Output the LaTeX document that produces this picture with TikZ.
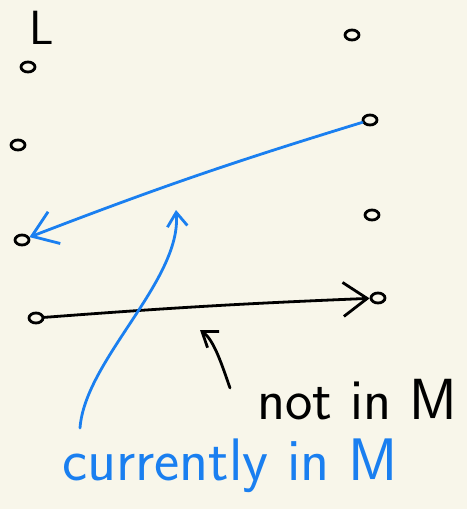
\documentclass[tikz,border=0pt]{standalone}
\usepackage{tikz}
\usetikzlibrary{arrows.meta}
\definecolor{papier}{HTML}{F8F6EA}
\definecolor{stylo}{HTML}{1A7FF0}
\tikzset{
    sommet/.style={draw, line width=2.8pt, ellipse, inner sep=0pt, minimum width=14pt, minimum height=10pt},
    trait/.style={line width=2.8pt, line cap=round},
    fleche/.style={trait, -{Straight Barb[length=24pt, width=34pt, line width=2.8pt]}},
    petitefleche/.style={trait, -{Straight Barb[length=14pt, width=20pt, line width=2.8pt]}},
    main/.style={font=\sffamily\fontsize{58}{58}\selectfont, inner sep=0pt}
}
\usetikzlibrary{shapes.geometric}
\begin{document}
\begin{tikzpicture}[x=1pt, y=-1pt]
        % Fond
        \fill[papier] (0,0) rectangle (467,509);
        \useasboundingbox (0,0) rectangle (467,509);

        % Ensemble L
        \node[main, font=\sffamily\fontsize{48}{48}\selectfont] (L) at (42,28) {L};

        % Sommets de gauche
        \node[sommet] (g1) at (28,67) {};
        \node[sommet] (g2) at (18,145) {};
        \node[sommet] (g3) at (22,240) {};
        \node[sommet] (g4) at (36,318) {};

        % Sommets de droite
        \node[sommet] (d1) at (352,35) {};
        \node[sommet] (d2) at (370,120) {};
        \node[sommet] (d3) at (372,215) {};
        \node[sommet] (d4) at (378,298) {};

        % Arete de M (bleue)
        \draw[fleche, stylo] (d2) to[bend right=2] (g3);

        % Arete hors de M
        \draw[fleche] (g4) to[bend left=1] (d4);

        % Legendes
        \node[main] (hors) at (357,400) {not in M};
        \node[main, stylo, font=\sffamily\fontsize{60}{60}\selectfont] (dans) at (230,466) {currently in M};

        % Renvois
        \coordinate (cible1) at (176,210);
        \coordinate (depart1) at (80,428);
        \draw[petitefleche, stylo] (depart1) .. controls (85,360) and (182,280) .. (cible1);
        \coordinate (cible2) at (200,330);
        \coordinate (depart2) at (230,388);
        \draw[petitefleche] (depart2) .. controls (222,365) and (214,340) .. (cible2);
    \end{tikzpicture}
\end{document}
